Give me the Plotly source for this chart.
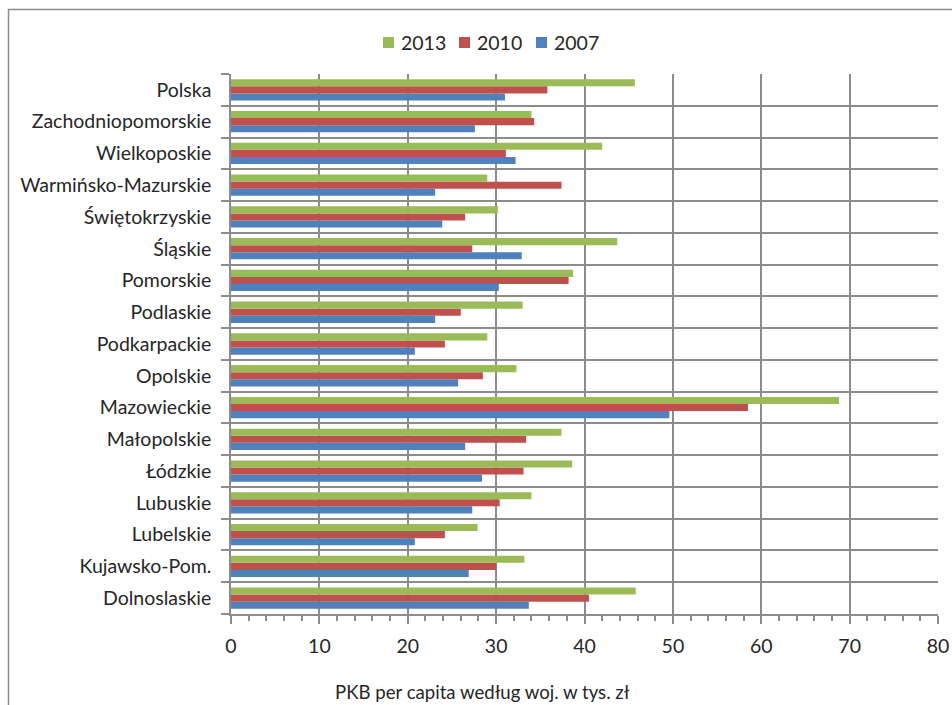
import plotly.graph_objects as go

regions = ["Dolnoslaskie", "Kujawsko-Pom.", "Lubelskie", "Lubuskie", "Łódzkie",
           "Małopolskie", "Mazowieckie", "Opolskie", "Podkarpackie", "Podlaskie",
           "Pomorskie", "Śląskie", "Świętokrzyskie", "Warmińsko-Mazurskie",
           "Wielkoposkie", "Zachodniopomorskie", "Polska"]
v2007 = [33.7, 26.9, 20.8, 27.3, 28.4, 26.5, 49.6, 25.7, 20.8, 23.1,
         30.3, 32.9, 23.9, 23.1, 32.2, 27.6, 31.0]
v2010 = [40.5, 30.0, 24.2, 30.4, 33.1, 33.4, 58.5, 28.5, 24.2, 26.0,
         38.2, 27.3, 26.5, 37.4, 31.1, 34.3, 35.8]
v2013 = [45.8, 33.2, 27.9, 34.0, 38.6, 37.4, 68.8, 32.3, 29.0, 33.0,
         38.7, 43.7, 30.2, 29.0, 42.0, 34.0, 45.7]
series_names = ["2007", "2010", "2013"]
colors = ["#4F81BD", "#C0504D", "#9BBB59"]
x_title = "PKB per capita według woj. w tys. zł"

FONT = "Lato"
FS = 19.5
W, H = 952, 705
L, T = 231, 74
R = 952 - 938
B = 705 - 614
pw, ph = W - L - R, H - T - B


def px_x(p):
    return (p - L) / pw


def px_y(p):
    return 1 - (p - T) / ph


fig = go.Figure()
for name, vals, col in zip(series_names, [v2007, v2010, v2013], colors):
    fig.add_trace(go.Bar(y=regions, x=vals, name=name, orientation="h",
                         marker=dict(color=col, line=dict(width=0))))

fig.update_layout(
    width=W, height=H,
    margin=dict(l=L, r=R, t=T, b=B, autoexpand=False),
    barmode="group", bargap=0.33, bargroupgap=0,
    paper_bgcolor="white", plot_bgcolor="white",
    font=dict(family=FONT, size=FS, color="#262626"),
    showlegend=False,
    xaxis=dict(range=[0, 80], dtick=10, showgrid=True, gridcolor="#8C8C8C", gridwidth=1.5,
               showline=True, linecolor="#8C8C8C", linewidth=1.5,
               ticks="outside", ticklen=8, tickwidth=1.5, tickcolor="#8C8C8C",
               ticklabelstandoff=6, automargin=False,
               minor=dict(dtick=2, ticks="outside", ticklen=5, tickcolor="#8C8C8C", showgrid=False),
               zeroline=False, fixedrange=True),
    yaxis=dict(type="category", categoryorder="array", categoryarray=regions,
               tickson="boundaries", showgrid=True, gridcolor="#8C8C8C", gridwidth=1.5,
               showline=True, linecolor="#8C8C8C", linewidth=1.5,
               ticks="outside", ticklen=8, tickwidth=1.5, tickcolor="#8C8C8C",
               ticklabelstandoff=14, automargin=False, fixedrange=True),
)

# legend (drawn manually, order 2013, 2010, 2007)
legend_x = [383, 459, 536]
for lx, name, col in zip(legend_x, series_names[::-1], colors[::-1]):
    fig.add_shape(type="rect", xref="paper", yref="paper",
                  x0=px_x(lx), x1=px_x(lx + 11), y0=px_y(48), y1=px_y(37),
                  line=dict(width=0), fillcolor=col)
    fig.add_annotation(text=name, xref="paper", yref="paper",
                       x=px_x(lx + 16), y=px_y(42.5), xanchor="left", yanchor="middle",
                       showarrow=False, font=dict(family=FONT, size=FS, color="#262626"))

fig.add_annotation(text=x_title, xref="paper", yref="paper",
                   x=px_x(482), y=px_y(705),
                   xanchor="center", yanchor="bottom", showarrow=False,
                   font=dict(family=FONT, size=18.6, color="#262626"))

fig.add_shape(type="rect", xref="paper", yref="paper",
              x0=px_x(8.5), x1=px_x(W + 10), y0=px_y(H + 10), y1=px_y(9.5),
              line=dict(color="#8C8C8C", width=1.5), fillcolor="rgba(0,0,0,0)", layer="below")

fig.write_html("out.html", config={"displayModeBar": False},
               post_script="document.body.style.margin='0';document.body.style.overflow='hidden';")
